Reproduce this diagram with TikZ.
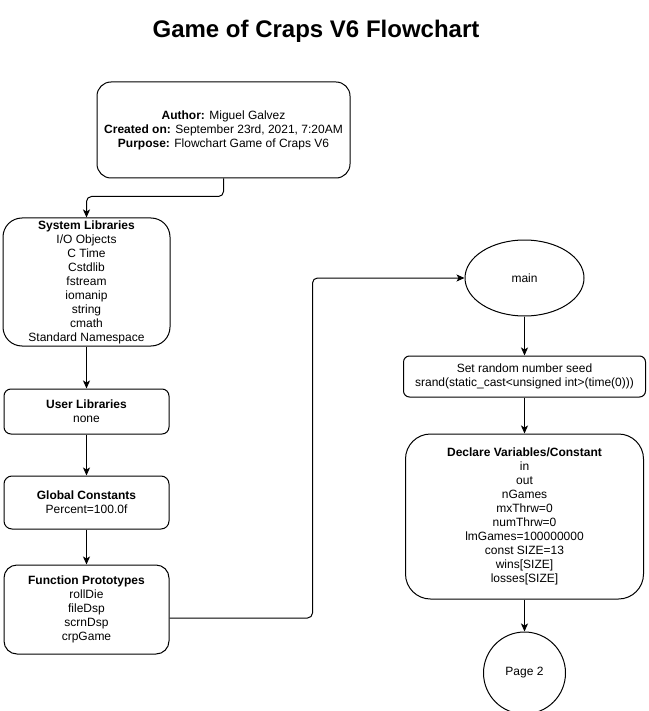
\documentclass[tikz,border=0pt]{standalone}
\usepackage{fontspec}
\setmainfont{Liberation Sans}
\usetikzlibrary{positioning,shapes.geometric,arrows.meta}

\begin{document}
\begin{tikzpicture}[
                        x=1pt, y=-1pt,
                        line width=1pt,
                        node distance=40pt,
                        >={Stealth[length=8pt,width=7pt,inset=2pt]},
                        every node/.style={font=\fontsize{12}{14}\selectfont, align=center, inner sep=0pt},
                        block/.style={rectangle, draw, rounded corners=#1},
                        block/.default=8pt
                    ]
                    \useasboundingbox (0,0) rectangle (648,711);
                    % Blocks
                    \node [font=\bfseries\fontsize{24}{28}\selectfont] (title) at (316,31) {Game of Craps V6 Flowchart};
                    \node [block=14pt, minimum width=253pt, minimum height=96pt] (info) at (223.5,130) {\textbf{Author:} Miguel Galvez\\ \textbf{Created on:} September 23rd, 2021, 7:20AM\\ \textbf{Purpose:} Flowchart Game of Craps V6};
                    \node [block=19pt, minimum width=167pt, minimum height=128pt] (syslib) at (86.5,282) {\textbf{System Libraries}\\ I/O Objects\\ C Time\\ Cstdlib\\ fstream\\ iomanip\\ string\\ cmath\\ Standard Namespace};
                    \node [block=7pt, minimum width=165pt, minimum height=45pt, below=42pt of syslib] (usrlib) {\textbf{User Libraries}\\ none};
                    \node [block=8pt, minimum width=165pt, minimum height=53pt, below=41pt of usrlib] (const) {\textbf{Global Constants}\\ Percent=100.0f};
                    \node [block=13pt, minimum width=165pt, minimum height=89pt, below=35pt of const] (proto) {\textbf{Function Prototypes}\\ rollDie\\ fileDsp\\ scrnDsp\\ crpGame};
                    \node [ellipse, draw, minimum width=119pt, minimum height=76pt] (main) at (524.5,278) {main};
                    \node [block=6pt, minimum width=242pt, minimum height=41pt, below=39pt of main] (seed) {Set random number seed\\ srand(static\_cast<unsigned int>(time(0)))};
                    \node [block=25pt, minimum width=238pt, minimum height=165pt, below=36pt of seed] (decl) {\textbf{Declare Variables/Constant}\\ in\\ out\\ nGames\\ mxThrw=0\\ numThrw=0\\ lmGames=100000000\\ const SIZE=13\\ wins[SIZE]\\ losses[SIZE]};
                    \node [circle, draw, minimum size=82pt, below=32pt of decl] (page) {Page 2};

                    % Connections
                    \draw [->, rounded corners=5pt] (info.south) -- ++(0,18) -| (syslib.north);
                    \draw [->] (syslib) -- (usrlib);
                    \draw [->] (usrlib) -- (const);
                    \draw [->] (const) -- (proto);
                    \draw [->, rounded corners=5pt] ([yshift=-8.5pt]proto.east) -- ++(143,0) |- (main.west);
                    \draw [->] (main) -- (seed);
                    \draw [->] (seed) -- (decl);
                    \draw [->] (decl) -- (page);
                \end{tikzpicture}
\end{document}
